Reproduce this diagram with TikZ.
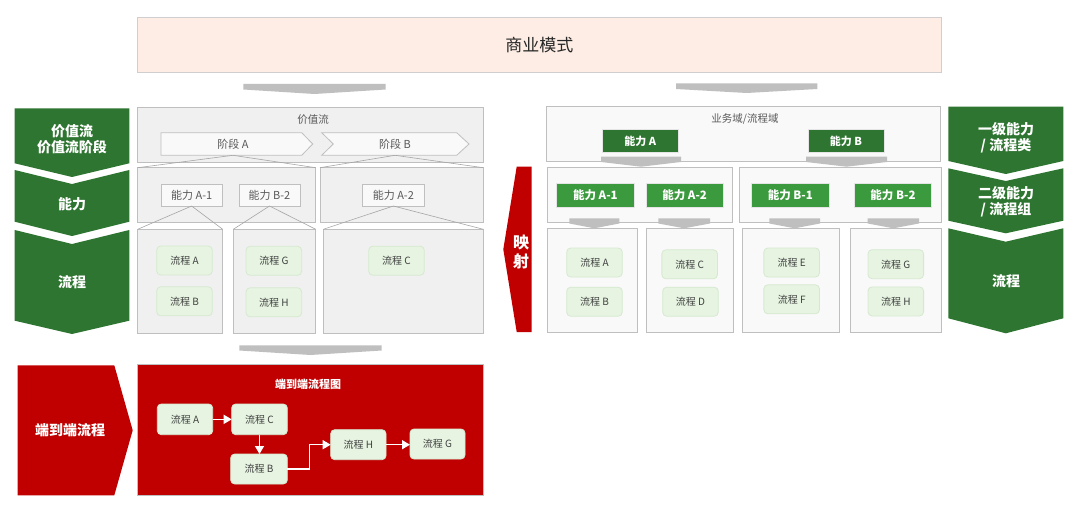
\documentclass[tikz,border=0pt]{standalone}
\usepackage{fontspec}
\setmainfont{Noto Sans CJK SC}
\usetikzlibrary{arrows.meta}
\definecolor{dgreen}{HTML}{2E7531}
\definecolor{mgreen}{HTML}{3C9A3E}
\definecolor{lgreen}{HTML}{E6F4E1}
\definecolor{lgborder}{HTML}{D6E9D0}
\definecolor{redc}{HTML}{C00000}
\definecolor{peach}{HTML}{FDEDE4}
\definecolor{peachborder}{HTML}{D0CECE}
\definecolor{boxgray}{HTML}{F0F0F0}
\definecolor{boxlight}{HTML}{F9F9F9}
\definecolor{edgegray}{HTML}{BFBFBF}
\definecolor{bannergray}{HTML}{BFBFBF}
\definecolor{zoomline}{HTML}{A6A6A6}
\definecolor{txtgray}{HTML}{595959}
\definecolor{txtdark}{HTML}{404040}
\newcommand{\fsz}[1]{\fontsize{#1}{#1}\selectfont}
\newcommand{\mybanner}[5]{\fill[bannergray] (#1,#3) -- (#2,#3) -- (#2,#4) -- ({(#1+#2)/2},#5) -- (#1,#4) -- cycle;}
\tikzset{
  box/.style={inner sep=0pt, outer sep=0pt, rectangle},
  lcont/.style={box, draw=edgegray, fill=boxgray, line width=0.8pt},
  rcont/.style={box, draw=edgegray, fill=boxlight, line width=0.8pt},
  capgray/.style={box, draw=edgegray, fill=boxlight, line width=0.8pt, minimum width=61.3pt, minimum height=21.7pt, text=txtgray, font=\fsz{11}},
  procbox/.style={box, rounded corners=4pt, draw=lgborder, fill=lgreen, line width=0.8pt, minimum width=55.6pt, minimum height=29pt, text=txtdark, font=\fsz{10}},
  capdark/.style={box, draw=edgegray!40, fill=dgreen, line width=0.5pt, minimum width=76.3pt, minimum height=23.4pt, text=white, font=\bfseries\fsz{11}},
  capmid/.style={box, draw=edgegray!40, fill=mgreen, line width=0.5pt, minimum width=77.3pt, minimum height=24.4pt, text=white, font=\bfseries\fsz{11.5}},
  chevtext/.style={text=white, font=\bfseries\fsz{14}, align=center, inner sep=0pt},
  titletext/.style={text=txtgray, font=\fsz{10.5}, inner sep=0pt},
  zl/.style={draw=zoomline, line width=0.6pt},
  flow/.style={draw=white, line width=1.5pt, -{Triangle[length=8pt,width=9pt]}},
  stage/.style={draw=edgegray, fill=boxlight, line width=0.8pt},
}
\begin{document}
\begin{tikzpicture}[x=1pt,y=-1pt]
\useasboundingbox (0,0) rectangle (1080,516);
\fill[white] (0,0) rectangle (1080,516);

% ---------- top business model ----------
\node[box, draw=peachborder, fill=peach, line width=1pt, minimum width=803.3pt, minimum height=55pt, text=black!85, font=\fsz{17}] (bm) at (539.35,44.8) {商业模式};
\mybanner{243.3}{385.7}{84}{89.5}{94}
\mybanner{676}{817.3}{83.5}{89}{93}

% ---------- left green chevrons ----------
\fill[dgreen] (14.7,108.3) -- (129.3,108.3) -- (129.3,163.3) -- (72,177) -- (14.7,163.3) -- cycle;
\fill[dgreen] (14.7,170) -- (72,184) -- (129.3,170) -- (129.3,221.7) -- (72,236) -- (14.7,221.7) -- cycle;
\fill[dgreen] (14.7,230) -- (72,244) -- (129.3,230) -- (129.3,320.7) -- (72,334) -- (14.7,320.7) -- cycle;
\node[chevtext] (lc1) at (72,139) {价值流\\[2pt]价值流阶段};
\node[chevtext] (lc2) at (72,204) {能力};
\node[chevtext] (lc3) at (72,282) {流程};

% ---------- right green chevrons ----------
\fill[dgreen] (948.3,106.7) -- (1063.3,106.7) -- (1063.3,161) -- (1005.8,174) -- (948.3,161) -- cycle;
\fill[dgreen] (948.3,168.3) -- (1005.8,181) -- (1063.3,168.3) -- (1063.3,220.7) -- (1005.8,233.3) -- (948.3,220.7) -- cycle;
\fill[dgreen] (948.3,228.3) -- (1005.8,241.7) -- (1063.3,228.3) -- (1063.3,318.3) -- (1005.8,333.3) -- (948.3,318.3) -- cycle;
\node[chevtext] (rc1) at (1006,137.5) {一级能力\\[2pt]/ 流程类};
\node[chevtext] (rc2) at (1006,202) {二级能力\\[2pt]/ 流程组};
\node[chevtext] (rc3) at (1006,281) {流程};

% ---------- left section: value stream ----------
\node[lcont, minimum width=345.6pt, minimum height=55pt] (vs) at (310.5,134.8) {};
\node[titletext] (vst) at (313,120) {价值流};
\draw[stage] (161,132.7) -- (301.7,132.7) -- (312.7,144) -- (301.7,155.3) -- (161,155.3) -- cycle;
\draw[stage] (321.7,132.7) -- (456.7,132.7) -- (469,144) -- (456.7,155.3) -- (321.7,155.3) -- (333.3,144) -- cycle;
\node[titletext, font=\fsz{11}] (stA) at (233,144) {阶段 A};
\node[titletext, font=\fsz{11}] (stB) at (395,144) {阶段 B};
\coordinate (stAb) at (233,155.3);
\coordinate (stBb) at (395,155.3);

\node[lcont, minimum width=178pt, minimum height=55pt] (lcap1) at (226.7,195.2) {};
\node[lcont, minimum width=163.3pt, minimum height=55pt] (lcap2) at (401.65,195.2) {};
\draw[zl] (stAb) -- (lcap1.north west);
\draw[zl] (stAb) -- (lcap1.north east);
\draw[zl] (stBb) -- (lcap2.north west);
\draw[zl] (stBb) -- (lcap2.north east);

\node[capgray] (gA1) at (191.65,195.15) {能力 A-1};
\node[capgray, minimum width=61pt] (gB2) at (269.5,195.15) {能力 B-2};
\node[capgray] (gA2) at (393.35,195.15) {能力 A-2};

\node[lcont, minimum width=85pt, minimum height=103.7pt] (lp1) at (180.2,281.15) {};
\node[lcont, minimum width=82.4pt, minimum height=103.7pt] (lp2) at (274.5,281.15) {};
\node[lcont, minimum width=160pt, minimum height=103.7pt] (lp3) at (403.3,281.15) {};
\draw[zl] (gA1.south) -- (lp1.north west);
\draw[zl] (gA1.south) -- (lp1.north east);
\draw[zl] (gB2.south) -- (lp2.north west);
\draw[zl] (gB2.south) -- (lp2.north east);
\draw[zl] (gA2.south) -- (lp3.north west);
\draw[zl] (gA2.south) -- (lp3.north east);

\node[procbox] (lpA) at (184.5,260.5) {流程 A};
\node[procbox] (lpB) at (184.5,301.3) {流程 B};
\node[procbox] (lpG) at (273.85,260.8) {流程 G};
\node[procbox] (lpH) at (273.85,302.3) {流程 H};
\node[procbox] (lpC) at (396.5,260.7) {流程 C};

% ---------- mapping arrow ----------
\fill[redc] (516.7,166.7) -- (531.7,166.7) -- (531.7,332) -- (516.7,332) -- (503.3,249.3) -- cycle;
\node[text=white, font=\bfseries\fsz{16}, align=center, inner sep=0pt] (map) at (521,252) {映\\[3pt]射};

% ---------- right section ----------
\node[rcont, minimum width=393.3pt, minimum height=54.3pt] (dom) at (743.35,133.85) {};
\node[titletext] (domt) at (745,119.3) {业务域/流程域};
\node[capdark] (cA) at (640.15,141) {能力 A};
\node[capdark] (cB) at (846,141) {能力 B};

\node[rcont, minimum width=185.4pt, minimum height=55pt] (l2a) at (640,194.8) {};
\node[rcont, minimum width=201.7pt, minimum height=55pt] (l2b) at (840.15,194.8) {};
\mybanner{601}{681}{156.7}{162}{166.7}
\mybanner{806}{887}{156.7}{162}{166.7}

\node[capmid] (cA1) at (595.35,195.5) {能力 A-1};
\node[capmid] (cA2) at (684.65,195.5) {能力 A-2};
\node[capmid] (cB1) at (790.35,195.5) {能力 B-1};
\node[capmid] (cB2) at (893,195.5) {能力 B-2};

\node[rcont, minimum width=90.4pt, minimum height=104.4pt] (l3a) at (592.5,280.5) {};
\node[rcont, minimum width=87.3pt, minimum height=104.4pt] (l3b) at (689.65,280.5) {};
\node[rcont, minimum width=96.7pt, minimum height=104.4pt] (l3c) at (790.65,280.5) {};
\node[rcont, minimum width=90.3pt, minimum height=104.4pt] (l3d) at (895.85,280.5) {};
\mybanner{569.3}{619.3}{218.3}{223.5}{228.3}
\mybanner{658.3}{710}{218.3}{223.5}{228.3}
\mybanner{769.3}{820}{218.3}{223.5}{228.3}
\mybanner{867.7}{919}{218.3}{223.5}{228.3}

\node[procbox] (rpA) at (594.5,262.5) {流程 A};
\node[procbox] (rpB) at (594.5,301.7) {流程 B};
\node[procbox] (rpC) at (689.65,264.3) {流程 C};
\node[procbox] (rpD) at (690.5,301.7) {流程 D};
\node[procbox] (rpE) at (791.65,262.5) {流程 E};
\node[procbox] (rpF) at (791.65,299.3) {流程 F};
\node[procbox] (rpG) at (895.8,264.2) {流程 G};
\node[procbox] (rpH) at (895.8,301.4) {流程 H};

% ---------- end-to-end ----------
\mybanner{239.3}{381.7}{345.3}{350.5}{355}
\fill[redc] (17.7,365.3) -- (114.3,365.3) -- (132.7,430.3) -- (114.3,495.3) -- (17.7,495.3) -- cycle;
\node[chevtext] (e2el) at (70,430) {端到端流程};
\node[box, draw=edgegray, fill=redc, line width=0.8pt, minimum width=346pt, minimum height=130.6pt] (e2e) at (310.3,430) {};
\node[text=white, font=\bfseries\fsz{11}, inner sep=0pt] (e2et) at (308,384) {端到端流程图};

\node[procbox, minimum width=55.4pt, minimum height=30.7pt] (eA) at (185,419.35) {流程 A};
\node[procbox, minimum width=55.6pt, minimum height=30.7pt] (eC) at (259.5,419.35) {流程 C};
\node[procbox, minimum width=56.6pt, minimum height=30pt] (eB) at (259,469) {流程 B};
\node[procbox, minimum width=55.3pt, minimum height=30pt] (eH) at (358.35,444.7) {流程 H};
\node[procbox, minimum width=55pt, minimum height=30pt] (eG) at (437.5,444) {流程 G};

\draw[flow] (eA.east) -- (eC.west);
\draw[flow] (eC.south) -- (eC.south |- eB.north);
\draw[flow] (eB.east) -- ++(22,0) |- (eH.west);
\draw[flow] (eH.east) -- (eH.east -| eG.west);
\end{tikzpicture}
\end{document}
